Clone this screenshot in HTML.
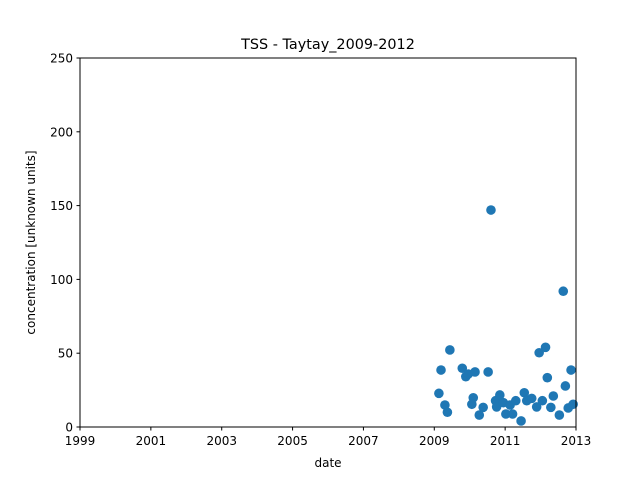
<!DOCTYPE html>
<html><head><meta charset="utf-8"><style>
body{margin:0;background:#fff;}
svg text{font-family:"DejaVu Sans","Liberation Sans",sans-serif;fill:#000;}
</style></head><body>
<svg id="chart" width="640" height="480" xmlns="http://www.w3.org/2000/svg">
<rect width="640" height="480" fill="#fff"/>
<text x="328" y="49" font-size="14.4" text-anchor="middle">TSS - Taytay_2009-2012</text>
<g id="ticks"></g>
<g id="points"></g>
<rect x="80" y="58" width="496" height="369" fill="none" stroke="#000" stroke-width="1"/>
<text x="328" y="467" font-size="12" text-anchor="middle">date</text>
<text transform="translate(35,242.5) rotate(-90)" font-size="12" text-anchor="middle">concentration [unknown units]</text>
</svg>
<script>
const xTicks=[1999,2001,2003,2005,2007,2009,2011,2013];
const yTicks=[0,50,100,150,200,250];
const dates=[2009.13,2009.19,2009.30,2009.37,2009.44,2009.79,2009.89,2009.96,2010.15,2010.10,2010.06,2010.27,2010.38,2010.52,2010.60,2010.73,2010.76,2010.85,2010.95,2011.02,2011.14,2011.21,2011.30,2011.45,2011.54,2011.61,2011.75,2011.89,2011.96,2012.05,2012.14,2012.19,2012.29,2012.36,2012.53,2012.64,2012.70,2012.78,2012.86,2012.92];
const values=[22.8,38.6,14.9,10,52.2,39.8,34.1,35.9,37.3,19.8,15.4,8.1,13.3,37.3,147,17.8,13.6,21.7,16.5,8.8,14.9,8.8,17.8,4.1,23.2,17.8,19.4,13.6,50.3,17.8,54,33.4,13.3,21,8.1,92,27.8,12.9,38.6,15.4];
const NS="http://www.w3.org/2000/svg";
const x=d=>80+(d-1999)/14*496;
const y=v=>427-v/250*369;
const tg=document.getElementById('ticks'),pg=document.getElementById('points');
function mk(tag,at,par){const e=document.createElementNS(NS,tag);for(const k in at)e.setAttribute(k,at[k]);par.appendChild(e);return e;}
xTicks.forEach(t=>{
 const l=mk('line',{x1:x(t),x2:x(t),y1:427,y2:430.5,stroke:'#000'},tg);
 
 
 const s=mk('text',{x:x(t),y:445,'font-size':12,'text-anchor':'middle'},tg);s.textContent=t;
 
 
});
yTicks.forEach(t=>{
 const l=mk('line',{x1:76.5,x2:80,y1:y(t),y2:y(t),stroke:'#000'},tg);
 
 
 const s=mk('text',{x:73,y:y(t)+4.5,'font-size':12,'text-anchor':'end'},tg);s.textContent=t;
 
 
});
dates.forEach((d,i)=>{
 const c=mk('circle',{cx:x(d),cy:y(values[i]),r:4.8,fill:'#1f77b4'},pg);
 
 
});
</script>
</body></html>
